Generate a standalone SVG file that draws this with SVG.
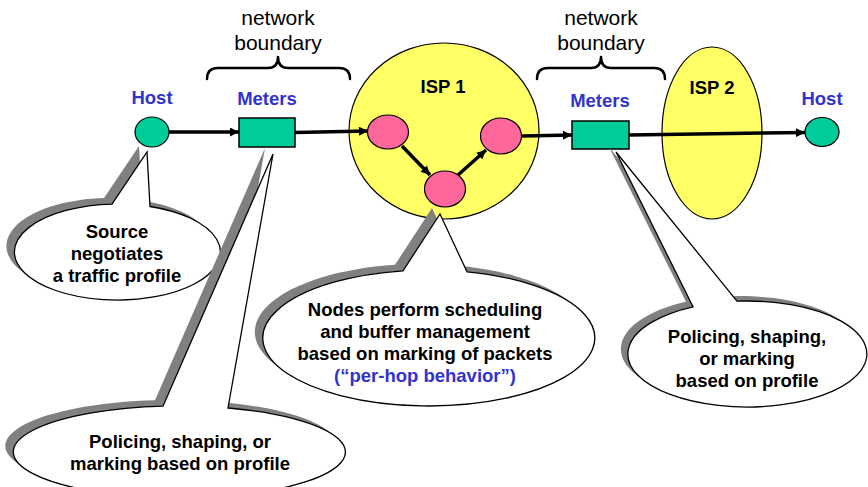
<svg xmlns="http://www.w3.org/2000/svg" width="868" height="487" viewBox="0 0 868 487">
  <defs>
    <style>
      .lbl { font-family: "Liberation Sans", Arial, sans-serif; font-weight: bold; font-size: 18.5px; text-anchor: middle; }
      .blue { fill: #3333CC; }
      .dark { fill: #000000; }
      .bnd { font-family: "Liberation Sans", Arial, sans-serif; font-size: 21px; text-anchor: middle; fill: #000000; }
      .host { fill: #00CC99; stroke: #000000; stroke-width: 1.2; }
      .meter { fill: #00CC99; stroke: #000000; stroke-width: 1.5; }
      .isp { fill: #FFFF66; stroke: #000000; stroke-width: 1.2; }
      .router { fill: #FF6699; stroke: #000000; stroke-width: 1.2; }
      .brace { fill: none; stroke: #000000; stroke-width: 2.5; stroke-linecap: round; stroke-linejoin: round; }
      .link { fill: none; stroke: #000000; stroke-width: 3.5; marker-end: url(#head); }
      .shadow { fill: #808080; stroke: none; }
      .bubble { fill: #FFFFFF; stroke: #000000; stroke-width: 1.3; stroke-linejoin: miter; }
    </style>
    <marker id="head" viewBox="0 0 10 10" refX="10" refY="5" markerUnits="userSpaceOnUse" markerWidth="10" markerHeight="9" orient="auto">
      <path d="M0,0 L10,5 L0,10 Z" fill="#000000"/>
    </marker>
  </defs>

  <rect x="0" y="0" width="868" height="487" fill="#FFFFFF"/>

  <!-- network boundary braces -->
  <g id="boundary-left">
    <text class="bnd" x="278" y="25">network</text>
    <text class="bnd" x="278" y="50">boundary</text>
    <path class="brace" d="M207,79 Q207,68 218,68 L268,68 Q278,68 278,57 Q278,68 288,68 L339,68 Q350,68 350,79"/>
  </g>
  <g id="boundary-right">
    <text class="bnd" x="601" y="25">network</text>
    <text class="bnd" x="601" y="50">boundary</text>
    <path class="brace" d="M537,79 Q537,68 548,68 L591,68 Q601,68 601,57 Q601,68 611,68 L654,68 Q665,68 665,79"/>
  </g>

  <!-- ISP clouds -->
  <g id="isp1">
    <ellipse class="isp" cx="444" cy="131" rx="95" ry="88"/>
    <text class="lbl dark" x="443" y="93">ISP 1</text>
  </g>
  <g id="isp2">
    <ellipse class="isp" cx="712" cy="133" rx="50" ry="86"/>
    <text class="lbl dark" x="712" y="94">ISP 2</text>
  </g>

  <!-- endpoints and meters -->
  <g id="host-src">
    <text class="lbl blue" x="152" y="104">Host</text>
    <ellipse class="host" cx="152" cy="132" rx="17" ry="15"/>
  </g>
  <g id="meters-1">
    <text class="lbl blue" x="267" y="105">Meters</text>
    <rect class="meter" x="239" y="118" width="56" height="29"/>
  </g>
  <g id="meters-2">
    <text class="lbl blue" x="600" y="107">Meters</text>
    <rect class="meter" x="572" y="121" width="57" height="28"/>
  </g>
  <g id="host-dst">
    <text class="lbl blue" x="822" y="105">Host</text>
    <ellipse class="host" cx="822" cy="132" rx="17" ry="14.5"/>
  </g>

  <!-- routers inside ISP 1 -->
  <g id="router-a"><ellipse class="router" cx="388" cy="132" rx="20.5" ry="17"/></g>
  <g id="router-b"><ellipse class="router" cx="445" cy="189" rx="20.5" ry="18"/></g>
  <g id="router-c"><ellipse class="router" cx="501" cy="136" rx="20.5" ry="18"/></g>

  <!-- packet path -->
  <g id="connectors">
    <path class="link" d="M169,132 L239,132"/>
    <path class="link" d="M295,132.5 L368,131"/>
    <path class="link" d="M402,146 L430,175"/>
    <path class="link" d="M458,175 L486,150"/>
    <path class="link" d="M522,136 L572,135"/>
    <path class="link" d="M629,135 L805,132.5"/>
  </g>

  <!-- callout: source -->
  <g id="callout-source">
    <path class="shadow" transform="translate(-8,-6)" d="M150,206.5 L147,152 L112,204.1 A103,48 0 1 0 150,206.5 Z"/>
    <path class="bubble" d="M150,206.5 L147,152 L112,204.1 A103,48 0 1 0 150,206.5 Z"/>
    <text class="lbl dark" x="117" y="238">Source</text>
    <text class="lbl dark" x="117" y="260">negotiates</text>
    <text class="lbl dark" x="117" y="282">a traffic profile</text>
  </g>

  <!-- callout: meters at ingress -->
  <g id="callout-meter-left">
    <path class="shadow" transform="translate(-8,-6)" d="M228,408 L273,154 L163,406.2 A166,46 0 1 0 228,408 Z"/>
    <path class="bubble" d="M228,408 L273,154 L163,406.2 A166,46 0 1 0 228,408 Z"/>
    <text class="lbl dark" x="180" y="448">Policing, shaping, or</text>
    <text class="lbl dark" x="180" y="470">marking based on profile</text>
  </g>

  <!-- callout: per-hop behaviour -->
  <g id="callout-phb">
    <path class="shadow" transform="translate(-8,-6)" d="M467,271.8 L440,214 L403,270.8 A166,68 0 1 0 467,271.8 Z"/>
    <path class="bubble" d="M467,271.8 L440,214 L403,270.8 A166,68 0 1 0 467,271.8 Z"/>
    <text class="lbl dark" x="425" y="316">Nodes perform scheduling</text>
    <text class="lbl dark" x="425" y="338">and buffer management</text>
    <text class="lbl dark" x="425" y="360">based on marking of packets</text>
    <text class="lbl blue" x="425" y="382">(“per-hop behavior”)</text>
  </g>

  <!-- callout: meters at ISP 2 edge -->
  <g id="callout-meter-right">
    <path class="shadow" transform="translate(-7,-5)" d="M737,301.2 L616,152 L693,306.8 A119.5,53 0 1 0 737,301.2 Z"/>
    <path class="bubble" d="M737,301.2 L616,152 L693,306.8 A119.5,53 0 1 0 737,301.2 Z"/>
    <text class="lbl dark" x="747" y="343">Policing, shaping,</text>
    <text class="lbl dark" x="747" y="365">or marking</text>
    <text class="lbl dark" x="747" y="387">based on profile</text>
  </g>
</svg>
